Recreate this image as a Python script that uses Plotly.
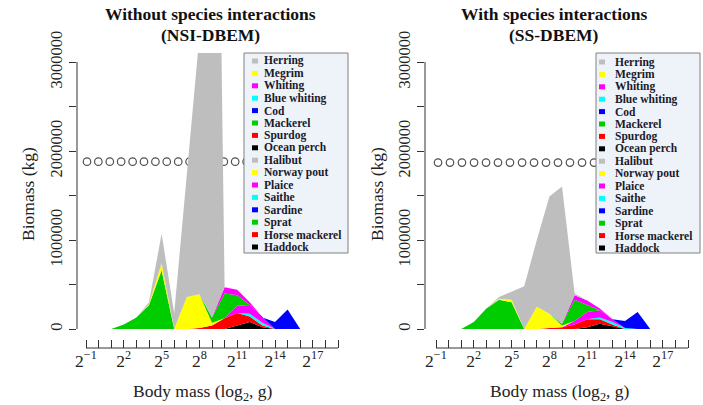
import plotly.graph_objects as go

W, H = 703, 405

# ---------------- data ----------------
size_class = [-1, 0, 1, 2, 3, 4, 5, 6, 7, 8, 9, 10, 11, 12, 13, 14, 15, 16]

species = ["Herring", "Megrim", "Whiting", "Blue whiting", "Cod", "Mackerel",
           "Spurdog", "Ocean perch", "Halibut", "Norway pout", "Plaice", "Saithe",
           "Sardine", "Sprat", "Horse mackerel", "Haddock"]
species_colors = ["#bebebe", "#ffff00", "#ff00ff", "#00ffff", "#0000ff", "#00cd00",
                  "#ff0000", "#000000", "#bebebe", "#ffff00", "#ff00ff", "#00ffff",
                  "#0000ff", "#00cd00", "#ff0000", "#000000"]

# Without species interactions (NSI-DBEM), biomass in kg per size class
nsi_herring = [0, 0, 0, 0, 0, 20000, 330000, 180000, 1360000, 2900000, 11000000, 0, 0, 0, 0, 0, 0, 0]
nsi_megrim = [0, 0, 0, 0, 0, 0, 0, 0, 0, 0, 0, 0, 0, 0, 0, 0, 0, 0]
nsi_whiting = [0, 0, 0, 0, 0, 0, 0, 0, 0, 0, 0, 70000, 60000, 30000, 0, 0, 0, 0]
nsi_blue_whiting = [0, 0, 0, 0, 0, 0, 0, 0, 0, 0, 0, 0, 0, 0, 0, 0, 0, 0]
nsi_cod = [0, 0, 0, 0, 0, 0, 0, 0, 0, 0, 0, 0, 0, 0, 0, 80000, 220000, 0]
nsi_mackerel = [0, 0, 0, 0, 0, 0, 0, 0, 0, 0, 60000, 280000, 120000, 0, 0, 0, 0, 0]
nsi_spurdog = [0, 0, 0, 0, 0, 0, 0, 0, 0, 0, 0, 0, 0, 0, 0, 0, 0, 0]
nsi_ocean_perch = [0, 0, 0, 0, 0, 0, 0, 0, 0, 0, 0, 0, 0, 0, 0, 0, 0, 0]
nsi_halibut = [0, 0, 0, 0, 0, 0, 0, 0, 0, 0, 0, 0, 0, 0, 0, 0, 0, 0]
nsi_norway_pout = [0, 0, 0, 0, 0, 10000, 80000, 0, 360000, 380000, 30000, 0, 0, 0, 0, 0, 0, 0]
nsi_plaice = [0, 0, 0, 0, 0, 0, 0, 0, 0, 0, 0, 0, 80000, 100000, 60000, 0, 0, 0]
nsi_saithe = [0, 0, 0, 0, 0, 0, 0, 0, 0, 0, 0, 0, 0, 30000, 30000, 0, 0, 0]
nsi_sardine = [0, 0, 0, 0, 0, 0, 0, 0, 0, 0, 0, 0, 0, 0, 0, 0, 0, 0]
nsi_sprat = [0, 0, 0, 50000, 130000, 270000, 660000, 0, 0, 0, 0, 0, 0, 0, 0, 0, 0, 0]
nsi_horse_mackerel = [0, 0, 0, 0, 0, 0, 0, 0, 0, 10000, 40000, 120000, 140000, 60000, 20000, 0, 0, 0]
nsi_haddock = [0, 0, 0, 0, 0, 0, 0, 0, 0, 0, 0, 0, 40000, 80000, 20000, 0, 0, 0]

# With species interactions (SS-DBEM)
ss_herring = [0, 0, 0, 0, 0, 20000, 90000, 480000, 750000, 1320000, 1540000, 20000, 0, 0, 0, 0, 0, 0]
ss_megrim = [0, 0, 0, 0, 0, 0, 0, 0, 0, 0, 0, 0, 0, 0, 0, 0, 0, 0]
ss_whiting = [0, 0, 0, 0, 0, 0, 0, 0, 0, 0, 0, 50000, 50000, 20000, 0, 0, 0, 0]
ss_blue_whiting = [0, 0, 0, 0, 0, 0, 0, 0, 0, 0, 0, 0, 0, 0, 0, 0, 0, 0]
ss_cod = [0, 0, 0, 0, 0, 0, 0, 0, 0, 0, 0, 0, 0, 0, 0, 80000, 190000, 0]
ss_mackerel = [0, 0, 0, 0, 0, 0, 0, 0, 0, 0, 20000, 240000, 80000, 0, 0, 0, 0, 0]
ss_spurdog = [0, 0, 0, 0, 0, 0, 0, 0, 0, 0, 0, 0, 0, 0, 0, 0, 0, 0]
ss_ocean_perch = [0, 0, 0, 0, 0, 0, 0, 0, 0, 0, 0, 0, 0, 0, 0, 0, 0, 0]
ss_halibut = [0, 0, 0, 0, 0, 0, 0, 0, 0, 0, 0, 0, 0, 0, 0, 0, 0, 0]
ss_norway_pout = [0, 0, 0, 0, 0, 10000, 30000, 0, 250000, 160000, 20000, 0, 0, 0, 0, 0, 0, 0]
ss_plaice = [0, 0, 0, 0, 0, 0, 0, 0, 0, 0, 0, 40000, 80000, 80000, 30000, 0, 0, 0]
ss_saithe = [0, 0, 0, 0, 0, 0, 0, 0, 0, 0, 0, 0, 0, 20000, 30000, 10000, 0, 0]
ss_sardine = [0, 0, 0, 0, 0, 0, 0, 0, 0, 0, 0, 0, 0, 0, 0, 0, 0, 0]
ss_sprat = [0, 0, 0, 80000, 230000, 330000, 300000, 0, 0, 0, 0, 0, 0, 0, 0, 0, 0, 0]
ss_horse_mackerel = [0, 0, 0, 0, 0, 0, 0, 0, 0, 10000, 20000, 50000, 90000, 50000, 20000, 0, 0, 0]
ss_haddock = [0, 0, 0, 0, 0, 0, 0, 0, 0, 0, 0, 0, 20000, 60000, 30000, 0, 0, 0]

# open-circle reference series
nsi_circle_x = [-0.92, -0.02, 0.89, 1.79, 2.70, 3.60, 4.51, 5.41, 6.32, 7.22, 8.13,
                9.03, 9.94, 10.84, 11.75, 12.65]
nsi_circle_y = [1880000] * 16
ss_circle_x = [-0.84, 0.11, 1.06, 2.02, 2.97, 3.92, 4.87, 5.83, 6.78, 7.73, 8.68,
               9.63, 10.59, 11.54, 12.49, 13.44]
ss_circle_y = [1870000] * 16

x_ticks = list(range(-1, 20))
x_labels = {-1: "2<sup>\u22121</sup>", 2: "2<sup>2</sup>", 5: "2<sup>5</sup>", 8: "2<sup>8</sup>",
            11: "2<sup>11</sup>", 14: "2<sup>14</sup>", 17: "2<sup>17</sup>"}
y_ticks = [0, 500000, 1000000, 1500000, 2000000, 2500000, 3000000]
y_labels = ["0", "", "1000000", "", "2000000", "", "3000000"]

nsi_data = [nsi_herring, nsi_megrim, nsi_whiting, nsi_blue_whiting, nsi_cod, nsi_mackerel,
            nsi_spurdog, nsi_ocean_perch, nsi_halibut, nsi_norway_pout, nsi_plaice, nsi_saithe,
            nsi_sardine, nsi_sprat, nsi_horse_mackerel, nsi_haddock]
ss_data = [ss_herring, ss_megrim, ss_whiting, ss_blue_whiting, ss_cod, ss_mackerel,
           ss_spurdog, ss_ocean_perch, ss_halibut, ss_norway_pout, ss_plaice, ss_saithe,
           ss_sardine, ss_sprat, ss_horse_mackerel, ss_haddock]

# ---------------- figure ----------------
SERIF = "Liberation Serif, Times New Roman, serif"


def px(x):
    return x / W


def py(y):
    return 1 - y / H


fig = go.Figure()

panels = [
    dict(data=nsi_data, cx=nsi_circle_x, cy=nsi_circle_y, xa="x", ya="y", grp="nsi"),
    dict(data=ss_data, cx=ss_circle_x, cy=ss_circle_y, xa="x2", ya="y2", grp="ss"),
]

for p in panels:
    fig.add_trace(go.Scatter(x=p["cx"], y=p["cy"], mode="markers", xaxis=p["xa"], yaxis=p["ya"],
                             marker=dict(symbol="circle-open", size=7.5, color="#505050",
                                         line=dict(width=1.2, color="#505050")),
                             showlegend=False, hoverinfo="skip"))
    for i in range(len(species) - 1, -1, -1):
        col = species_colors[i]
        fig.add_trace(go.Scatter(x=size_class, y=p["data"][i], mode="lines", stackgroup=p["grp"],
                                 xaxis=p["xa"], yaxis=p["ya"], name=species[i],
                                 line=dict(width=0, color=col), fillcolor=col,
                                 showlegend=False))

ydom = [py(348), py(53)]
yrng = [-213483, 3101124]


def xaxis_cfg(dom, rng, anchor):
    return dict(domain=dom, range=rng, anchor=anchor, tickvals=x_ticks,
                ticktext=[x_labels.get(t, "") for t in x_ticks],
                ticks="inside", ticklen=8, tickcolor="#333", tickwidth=1,
                showgrid=False, zeroline=False, showline=False, automargin=False,
                tickfont=dict(family=SERIF, size=17.5, color="#222"))


def yaxis_cfg(anchor):
    return dict(domain=ydom, range=yrng, anchor=anchor, tickvals=y_ticks, ticktext=y_labels,
                ticks="outside", ticklen=7, tickcolor="#333", tickwidth=1, tickangle=-90,
                showgrid=False, zeroline=False, showline=False, automargin=False,
                tickfont=dict(family=SERIF, size=16.5, color="#222"))


fig.update_layout(
    width=W, height=H, margin=dict(l=0, r=0, t=0, b=0, autoexpand=False),
    paper_bgcolor="white", plot_bgcolor="white", showlegend=False,
    xaxis=xaxis_cfg([px(77), px(348)], [-1.714, 19.794], "y"),
    yaxis=yaxis_cfg("x"),
    xaxis2=xaxis_cfg([px(425), px(700)], [-1.873, 19.95], "y2"),
    yaxis2=yaxis_cfg("x2"),
)

shapes = []
annotations = []
for xa, ya in [("x", "y"), ("x2", "y2")]:
    shapes.append(dict(type="line", xref=xa + " domain", yref=ya, x0=0, x1=0, y0=0, y1=3000000,
                       line=dict(color="#333", width=1)))
    shapes.append(dict(type="line", xref=xa, yref=ya + " domain", x0=-1, x1=19, y0=0, y1=0,
                       line=dict(color="#333", width=1)))

# titles
for cx, l1, l2 in [(211, "Without species interactions", "(NSI-DBEM)"),
                   (554, "With species interactions", "(SS-DBEM)")]:
    annotations.append(dict(text="<b>" + l1 + "</b>", x=px(cx), y=py(14.5), xref="paper", yref="paper",
                            showarrow=False, xanchor="center", yanchor="middle",
                            font=dict(family=SERIF, size=17.5, color="#111")))
    annotations.append(dict(text="<b>" + l2 + "</b>", x=px(cx), y=py(35), xref="paper", yref="paper",
                            showarrow=False, xanchor="center", yanchor="middle",
                            font=dict(family=SERIF, size=17.5, color="#111")))

# axis titles
for cx in [28, 377]:
    annotations.append(dict(text="Biomass (kg)", x=px(cx), y=py(194), xref="paper", yref="paper",
                            showarrow=False, textangle=-90, xanchor="center", yanchor="middle",
                            font=dict(family=SERIF, size=17.5, color="#222")))
for cx in [203, 560]:
    annotations.append(dict(text="Body mass (log<sub>2</sub>, g)", x=px(cx), y=py(392),
                            xref="paper", yref="paper", showarrow=False,
                            xanchor="center", yanchor="middle",
                            font=dict(family=SERIF, size=17.5, color="#222")))

# legends (drawn manually)
for bx0, bx1, mx, tx, ty0 in [(244, 348, 255, 262, 61), (596, 700, 602, 613, 62)]:
    shapes.append(dict(type="rect", xref="paper", yref="paper", x0=px(bx0), x1=px(bx1),
                       y0=py(253), y1=py(53), fillcolor="#eef3f9",
                       line=dict(color="#808080", width=1), layer="above"))
    for i, name in enumerate(species):
        yc = ty0 + i * 12.4
        shapes.append(dict(type="rect", xref="paper", yref="paper",
                           x0=px(mx - 3), x1=px(mx + 3), y0=py(yc + 2.5), y1=py(yc - 2.5),
                           fillcolor=species_colors[i], line=dict(width=0), layer="above"))
        annotations.append(dict(text="<b>" + name + "</b>", x=px(tx), y=py(yc), xref="paper",
                                yref="paper", showarrow=False, xanchor="left", yanchor="middle",
                                font=dict(family=SERIF, size=11.5, color="#1a1a2a")))

fig.update_layout(shapes=shapes, annotations=annotations)
fig.write_html("out.html")
